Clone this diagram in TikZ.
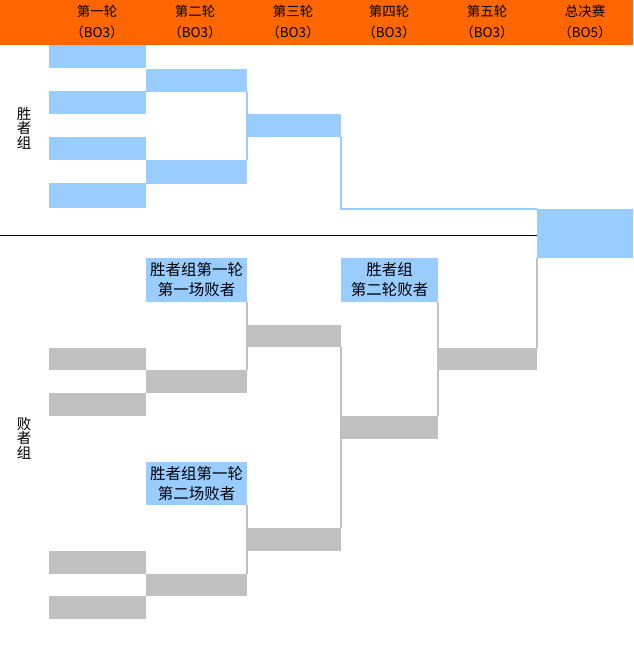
\documentclass[tikz,border=0pt]{standalone}
\usepackage{fontspec}
\newfontfamily\cjk{Noto Sans CJK SC}
\definecolor{hdorange}{HTML}{FF6600}
\definecolor{winblue}{HTML}{99CCFF}
\definecolor{losgrey}{HTML}{C0C0C0}

\begin{document}
\begin{tikzpicture}[x=1pt, y=-1pt,
    slot/.style={inner sep=0pt, outer sep=0pt, anchor=north west, minimum height=23pt},
    wslot/.style={slot, fill=winblue},
    lslot/.style={slot, fill=losgrey},
    dropbox/.style={slot, fill=winblue, minimum height=44pt, align=center, font=\cjk\fontsize{15.5}{20}\selectfont},
    hd/.style={align=center, font=\cjk\fontsize{13.5}{21}\selectfont},
    grp/.style={align=center, font=\cjk\fontsize{14.5}{14.5}\selectfont},
    wline/.style={winblue, line width=1.5pt},
    lline/.style={losgrey, line width=1.5pt}]

    \useasboundingbox (0,0) rectangle (633,661);

    % header
    \fill[hdorange] (0,0) rectangle (633,45);
    \node[hd] (h1) at (97,22) {第一轮\\（BO3）};
    \node[hd] (h2) at (195,22) {第二轮\\（BO3）};
    \node[hd] (h3) at (293,22) {第三轮\\（BO3）};
    \node[hd] (h4) at (389,22) {第四轮\\（BO3）};
    \node[hd] (h5) at (487,22) {第五轮\\（BO3）};
    \node[hd] (h6) at (585,22) {总决赛\\（BO5）};

    \node[grp] (gw) at (24,128) {胜\\者\\组};
    \node[grp] (gl) at (24,438) {败\\者\\组};

    % winners
    \node[wslot, minimum width=97pt] (w11) at (49,45) {};
    \node[wslot, minimum width=97pt] (w12) at (49,91) {};
    \node[wslot, minimum width=97pt] (w13) at (49,137) {};
    \node[wslot, minimum width=97pt, minimum height=25pt] (w14) at (49,183) {};
    \node[wslot, minimum width=101pt] (w21) at (146,69) {};
    \node[wslot, minimum width=101pt, minimum height=24pt] (w22) at (146,160) {};
    \node[wslot, minimum width=94pt] (w31) at (247,114) {};
    \node[wslot, minimum width=96pt, minimum height=49pt] (f) at (537,209) {};

    \draw[wline] (w21.south east) -- (w22.north east);
    \draw[wline] (w31.south east) |- (f.north west);

    \coordinate (div) at (0,235);
    \draw[line width=1pt] (div) -- (div -| f.west);

    % losers
    \node[dropbox, minimum width=101pt] (lb1) at (146,258) {胜者组第一轮\\第一场败者};
    \node[dropbox, minimum width=97pt] (lb2) at (341,258) {胜者组\\第二轮败者};
    \node[dropbox, minimum width=101pt, minimum height=43pt] (lb3) at (146,462) {胜者组第一轮\\第二场败者};

    \node[lslot, minimum width=97pt, minimum height=22pt] (l11) at (49,348) {};
    \node[lslot, minimum width=97pt] (l12) at (49,393) {};
    \node[lslot, minimum width=97pt] (l13) at (49,551) {};
    \node[lslot, minimum width=97pt] (l14) at (49,596) {};
    \node[lslot, minimum width=101pt] (l21) at (146,370) {};
    \node[lslot, minimum width=101pt, minimum height=22pt] (l22) at (146,574) {};
    \node[lslot, minimum width=94pt, minimum height=22pt] (l31) at (247,325) {};
    \node[lslot, minimum width=94pt] (l32) at (247,528) {};
    \node[lslot, minimum width=97pt] (l41) at (341,416) {};
    \node[lslot, minimum width=99pt, minimum height=22pt] (l51) at (438,348) {};

    \draw[lline] (lb1.south east) -- (l21.north east);
    \draw[lline] (lb3.south east) -- (l22.north east);
    \draw[lline] (l31.south east) -- (l32.north east);
    \draw[lline] (lb2.south east) -- (l41.north east);
    \draw[lline] (f.south west) -- (l51.north east);

\end{tikzpicture}
\end{document}
